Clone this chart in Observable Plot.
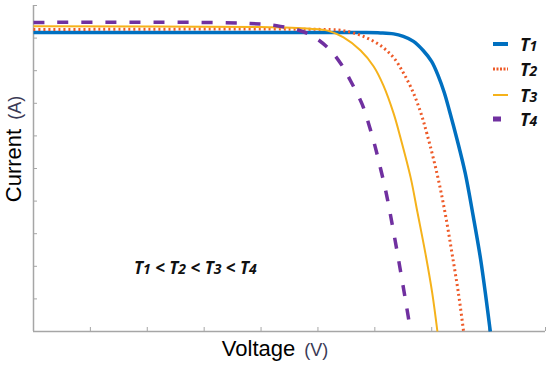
<!DOCTYPE html>
<html><head><meta charset="utf-8">
<script src="https://cdn.jsdelivr.net/npm/d3@7"></script>
<script src="https://cdn.jsdelivr.net/npm/@observablehq/plot@0.6"></script>
<style>body{margin:0;background:#fff} #chart{width:550px;height:365px}</style>
</head><body><div id="chart"></div>
<script>
const series = ["T1", "T2", "T3", "T4"];
const t1Voltage = [0, 5.75, 6.10, 6.33, 6.50, 6.68, 6.85, 7.00, 7.12, 7.22, 7.31, 7.45, 7.59, 7.73, 7.86, 7.96, 8.03];
const t1Current = [9.17, 9.17, 9.16, 9.13, 9.05, 8.90, 8.62, 8.28, 7.82, 7.33, 6.78, 5.86, 4.85, 3.53, 2.21, 0.95, 0];
const t2Voltage = [0, 5.22, 5.45, 5.80, 6.10, 6.33, 6.50, 6.66, 6.80, 6.92, 7.10, 7.24, 7.36, 7.47, 7.56];
const t2Current = [9.26, 9.26, 9.23, 9.05, 8.77, 8.40, 7.94, 7.39, 6.75, 6.04, 4.79, 3.59, 2.36, 1.17, 0];
const t3Voltage = [0, 3.99, 4.87, 5.17, 5.45, 5.75, 5.98, 6.15, 6.33, 6.45, 6.63, 6.75, 6.89, 7.01, 7.10];
const t3Current = [9.36, 9.34, 9.29, 9.23, 9.02, 8.62, 8.13, 7.55, 6.69, 5.95, 4.72, 3.65, 2.39, 1.17, 0];
const t4Voltage = [0, 3.81, 4.34, 4.82, 5.17, 5.40, 5.57, 5.78, 5.90, 6.01, 6.10, 6.19, 6.27, 6.41, 6.54, 6.63];
const t4Current = [9.48, 9.45, 9.36, 9.14, 8.71, 8.22, 7.70, 6.96, 6.32, 5.64, 5.00, 4.33, 3.62, 2.27, 0.95, 0];
const xTicks = [0, 1, 2, 3, 4, 5, 6, 7, 8, 9];
const yTicks = [0, 1, 2, 3, 4, 5, 6, 7, 8, 9, 10];
const xLabel = "Voltage", xUnit = "(V)";
const yLabel = "Current", yUnit = "(A)";
const annotation = ["T", "1", " < ", "T", "2", " < ", "T", "3", " < ", "T", "4"];

const voltages = [t1Voltage, t2Voltage, t3Voltage, t4Voltage];
const currents = [t1Current, t2Current, t3Current, t4Current];
const colors = ["#0070C0", "#EE5A28", "#F5B21B", "#7030A0"];
const styles = [
  {strokeWidth: 3.5},
  {strokeWidth: 3, strokeDasharray: "2,3"},
  {strokeWidth: 2},
  {strokeWidth: 3.5, strokeDasharray: "11,13"}
];
const rows = series.map((s, k) => voltages[k].map((v, i) => ({s, v, c: currents[k][i]})));

const axisColor = "#A6A6A6";
const plot = Plot.plot({
  width: 550, height: 365,
  marginLeft: 33, marginRight: 5, marginTop: 5, marginBottom: 34,
  x: {domain: [0, 9], axis: null},
  y: {domain: [0, 10], axis: null},
  style: {background: "#fff", overflow: "visible"},
  marks: [
    Plot.ruleX(xTicks, {x: d => d, y1: 0, y2: 0, insetTop: -4, stroke: axisColor, strokeWidth: 1}),
    Plot.ruleY(yTicks, {y: d => d, x1: 0, x2: 0, insetRight: -4, stroke: axisColor, strokeWidth: 1}),
    Plot.ruleY([0], {x1: 0, x2: 9, stroke: axisColor, strokeWidth: 1.5}),
    Plot.ruleX([0], {y1: 0, y2: 10, stroke: axisColor, strokeWidth: 1.5}),
    ...rows.map((r, k) => Plot.line(r, {x: "v", y: "c", stroke: colors[k], curve: "catmull-rom", strokeLinecap: "butt", ...styles[k]}))
  ]
});
document.getElementById("chart").appendChild(plot);

const svg = d3.select(plot);
// axis titles
const xt = svg.append("text").attr("x", 275).attr("y", 356).attr("text-anchor", "middle")
  .attr("font-family", "'Liberation Sans', Arial, sans-serif").attr("font-size", 22).attr("fill", "#000");
xt.append("tspan").text(xLabel);
xt.append("tspan").text(" " + xUnit).attr("dx", 4).attr("font-size", 18).attr("fill", "#3a3a55");
const yt = svg.append("text").attr("transform", "translate(21,149) rotate(-90)").attr("text-anchor", "middle")
  .attr("font-family", "'Liberation Sans', Arial, sans-serif").attr("font-size", 22).attr("fill", "#000");
yt.append("tspan").text(yLabel);
yt.append("tspan").text(" " + yUnit).attr("dx", 4).attr("font-size", 18).attr("fill", "#3a3a55");

// legend
const lg = svg.append("g");
const ly = [44, 69, 95, 119];
series.forEach((s, k) => {
  const st = styles[k];
  if (k === 3) {
    lg.append("rect").attr("x", 493).attr("y", ly[k] - 2.5).attr("width", 8).attr("height", 5).attr("fill", colors[k]);
  } else {
    lg.append("line").attr("x1", 493).attr("x2", 508).attr("y1", ly[k]).attr("y2", ly[k])
      .attr("stroke", colors[k]).attr("stroke-width", k === 0 ? 4 : st.strokeWidth)
      .attr("stroke-dasharray", k === 1 ? "2,1.5" : null);
  }
  const t = lg.append("text").attr("x", 520).attr("y", ly[k] + 7).attr("text-anchor", "start")
    .attr("font-family", "'Open Sans', sans-serif").attr("font-weight", "bold").attr("font-style", "italic")
    .attr("font-size", 18).attr("fill", "#111");
  t.append("tspan").text(s[0]);
  t.append("tspan").text(s.slice(1)).attr("font-size", 14);
});

// annotation
const an = svg.append("text").attr("x", 134).attr("y", 274).attr("text-anchor", "start")
  .attr("font-family", "'Open Sans', sans-serif").attr("font-weight", "bold").attr("font-style", "italic")
  .attr("font-size", 17).attr("fill", "#111");
annotation.forEach(p => {
  const ts = an.append("tspan").text(p);
  if (/^\d$/.test(p)) ts.attr("font-size", 14);
});
</script>
</body></html>
